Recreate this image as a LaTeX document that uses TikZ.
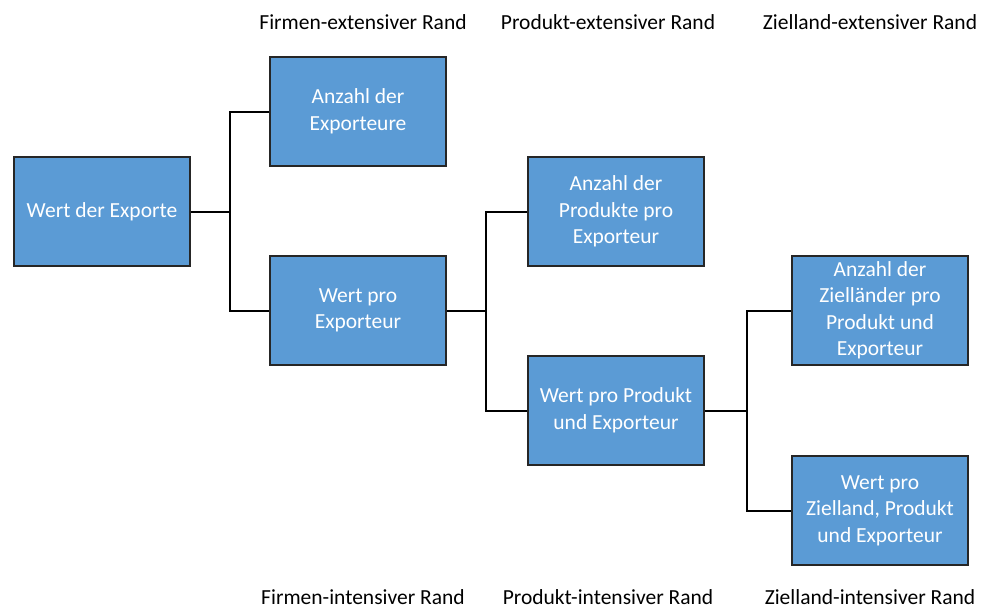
\documentclass[tikz,border=0pt]{standalone}
\usepackage{fontspec}
\setmainfont{Carlito}
\begin{document}
\begin{tikzpicture}[x=1pt,y=-1pt,
  box/.style={draw=black!85,line width=2pt,fill={rgb,255:red,91;green,155;blue,213},
    text=white,minimum width=176pt,minimum height=109pt,align=center,inner sep=2pt,
    font=\fontsize{21.5}{26.5}\selectfont,anchor=north west},
  lab/.style={font=\fontsize{21.5}{24}\selectfont,text=black},
  conn/.style={draw=black,line width=2pt}]
\useasboundingbox (0,0) rectangle (982,608);
\node[box] (A) at (13,156) {Wert der Exporte};
\node[box] (B) at (269,56) {Anzahl der\\Exporteure};
\node[box] (C) at (269,255) {Wert pro\\Exporteur};
\node[box] (D) at (527,156) {Anzahl der\\Produkte pro\\Exporteur};
\node[box] (E) at (527,355) {Wert pro Produkt\\und Exporteur};
\node[box] (F) at (791,255) {Anzahl der\\Zielländer pro\\Produkt und\\Exporteur};
\node[box] (G) at (791,455) {Wert pro\\Zielland, Produkt\\und Exporteur};
\draw[conn] (A.east) -- ++(39,0) coordinate (j1);
\draw[conn] (B.west) -| (j1) |- (C.west);
\draw[conn] (C.east) -- ++(39,0) coordinate (j2);
\draw[conn] (D.west) -| (j2) |- (E.west);
\draw[conn] (E.east) -- ++(42,0) coordinate (j3);
\draw[conn] (F.west) -| (j3) |- (G.west);
\node[lab] (t1) at (363,22) {Firmen-extensiver Rand};
\node[lab] (t2) at (608,22) {Produkt-extensiver Rand};
\node[lab] (t3) at (870,22) {Zielland-extensiver Rand};
\node[lab] (b1) at (363,597) {Firmen-intensiver Rand};
\node[lab] (b2) at (608,597) {Produkt-intensiver Rand};
\node[lab] (b3) at (870,597) {Zielland-intensiver Rand};
\end{tikzpicture}
\end{document}
